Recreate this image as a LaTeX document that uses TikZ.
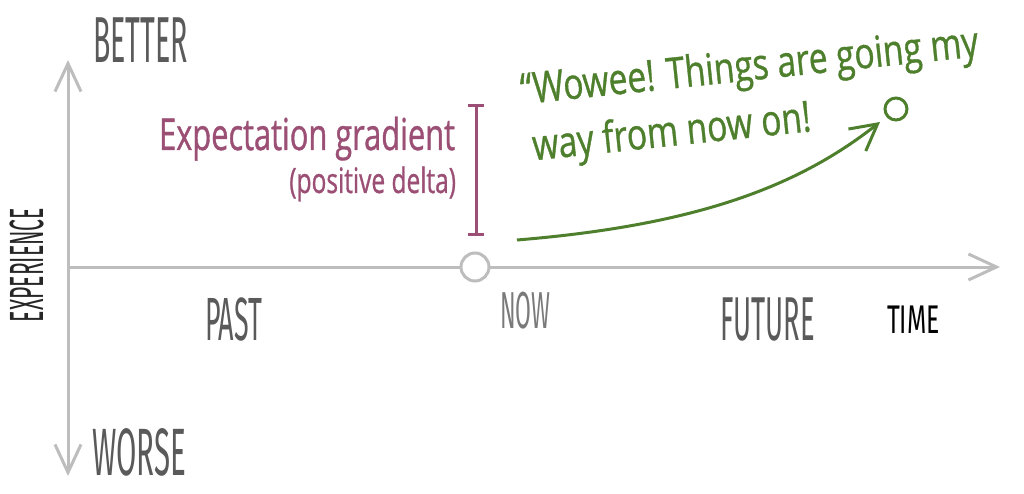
\documentclass[tikz,border=0pt]{standalone}
\usepackage{fontspec}
\usetikzlibrary{arrows.meta}
\newfontfamily\axisfont[FakeStretch=0.44]{Fira Sans}
\newfontfamily\timefont[FakeStretch=0.62]{Fira Sans}
\newfontfamily\handfont[FakeStretch=0.7,FakeBold=0.8]{Open Sans}
\newfontfamily\greenfont[FakeStretch=0.78,FakeBold=0.8]{Open Sans}
\definecolor{axisgray}{HTML}{BDBDBD}
\definecolor{labelgray}{HTML}{5A5A5A}
\definecolor{nowgray}{HTML}{7A7A7A}
\definecolor{deltapurple}{HTML}{9B4F74}
\definecolor{hopegreen}{HTML}{4E7F2C}

\begin{document}
\begin{tikzpicture}[x=1pt,y=-1pt]
        \tikzstyle{every node}=[inner sep=0pt, outer sep=0pt]
        \tikzstyle{axis}=[draw=axisgray, line width=3pt, -{Straight Barb[length=28pt,width=26pt]}]
        \tikzstyle{biglabel}=[text=labelgray, font={\axisfont\fontsize{65}{70}\selectfont}, anchor=base west]
        \tikzstyle{timelabel}=[text=labelgray, font={\axisfont\fontsize{61}{66}\selectfont}, anchor=base west]
        \tikzstyle{hand}=[text=deltapurple, anchor=base east]
        \tikzstyle{wow}=[text=hopegreen, font={\greenfont\fontsize{43}{57}\selectfont}, align=left, anchor=base west, rotate=6]
        \useasboundingbox (0,0) rectangle (1024,494);
        % axes
        \coordinate (origin) at (68,267);
        \coordinate (top) at (68,60);
        \coordinate (bottom) at (68,476);
        \coordinate (right) at (1000,267);
        \draw[axis] (origin) -- (top);
        \draw[axis] (origin) -- (bottom);
        \draw[axis] (origin) -- (right);
        \node[circle, draw=axisgray, fill=white, line width=3pt, minimum size=28pt] (now) at (475,267) {};
        % expectation gradient
        \coordinate (gtop) at (476,104);
        \coordinate (gbot) at (476,236);
        \draw[deltapurple, line width=3pt, {Bar[width=16pt]}-{Bar[width=16pt]}] (gbot) -- (gtop);
        \node[hand, font={\handfont\fontsize{44}{48}\selectfont}] (grad) at (455,150) {Expectation gradient};
        \node[hand, font={\handfont\fontsize{35}{38}\selectfont}] (delta) at (456,193) {(positive delta)};
        % the hopeful future
        \node[circle, draw=hopegreen, line width=3pt, minimum size=22pt] (goal) at (896,109) {};
        \coordinate (start) at (517,240);
        \coordinate (tip) at (880,122);
        \draw[hopegreen, line width=3pt, -{Straight Barb[length=26pt,width=28pt]}] (start) .. controls (700,225) and (800,185) .. (tip);
        \node[wow] (wow) at (528,161) {\char"201CWowee! Things are going my\\ \hspace*{6pt}way from now on!};
        % labels
        \node[biglabel] (better) at (93,63) {BETTER};
        \node[biglabel, font={\axisfont\fontsize{67}{72}\selectfont}] (worse) at (92,475) {WORSE};
        \node[text=black!85, font={\axisfont\fontsize{48}{52}\selectfont}, anchor=base, rotate=90] (exp) at (43,265) {EXPERIENCE};
        \node[timelabel] (past) at (205,340) {PAST};
        \node[text=nowgray, font={\axisfont\fontsize{52}{56}\selectfont}, anchor=base west] (nowlabel) at (500,328) {NOW};
        \node[timelabel, font={\axisfont\fontsize{62}{66}\selectfont}] (future) at (720,340) {FUTURE};
        \node[text=black, font={\timefont\fontsize{40}{44}\selectfont}, anchor=base west] (time) at (887,333) {TIME};
    \end{tikzpicture}
\end{document}
